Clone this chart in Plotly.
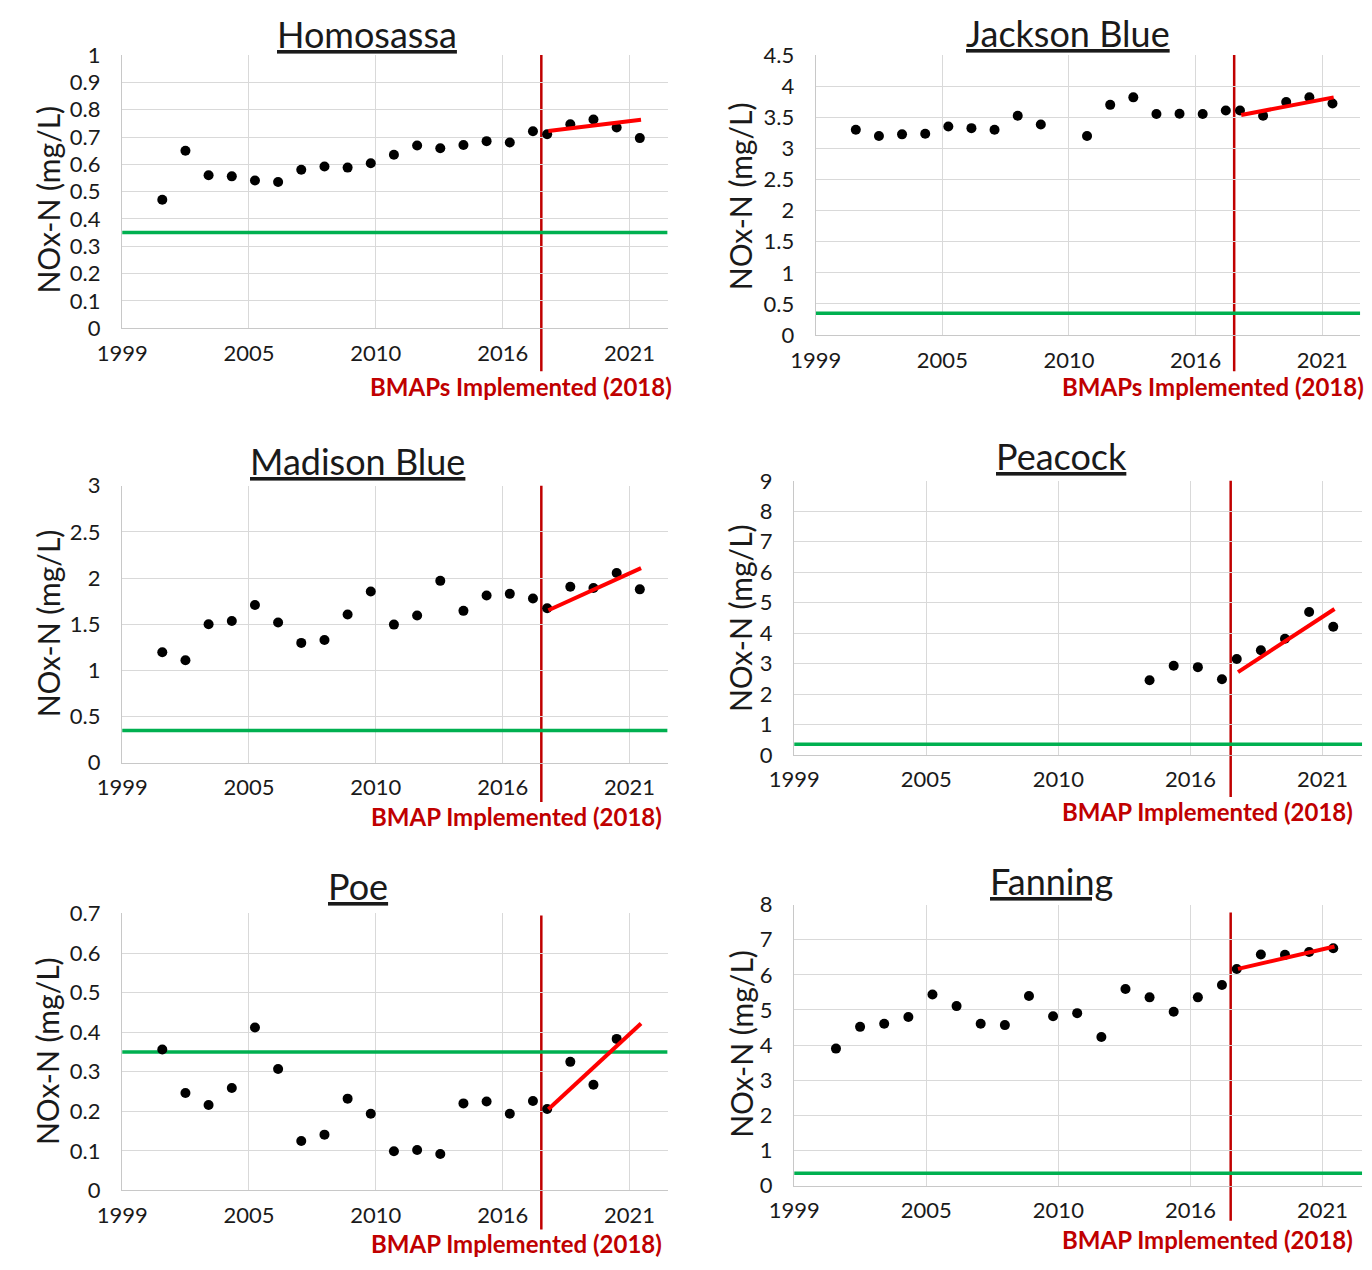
import plotly.graph_objects as go

W, H = 1372, 1270

# ---------------- data ----------------
years_pre = list(range(2001, 2018))          # annual values before BMAP
years_post = list(range(2018, 2023))         # annual values after BMAP
pre_dates = [f"{y}-05-22" for y in years_pre]
post_dates = [f"{y}-01-01" for y in years_post]
bmap_date = "2017-10-01"
trend_dates = ["2018-01-20", "2022-01-20"]
x_range = ["1999-08-28", "2023-03-15"]
target = 0.35

homosassa_pre = [0.47, 0.65, 0.56, 0.556, 0.541, 0.535, 0.58, 0.592, 0.588, 0.604,
                 0.635, 0.669, 0.659, 0.671, 0.685, 0.68, 0.721]
homosassa_post = [0.71, 0.747, 0.764, 0.735, 0.696]
homosassa_trend = [0.722, 0.763]

jackson_pre = [3.30, 3.20, 3.226, 3.237, 3.353, 3.326, 3.30, 3.526, 3.384, None,
               3.20, 3.70, 3.821, 3.553, 3.558, 3.553, 3.61]
jackson_post = [3.61, 3.526, 3.747, 3.821, 3.721]
jackson_trend = [3.537, 3.821]

madison_pre = [1.196, 1.111, 1.50, 1.535, 1.709, 1.518, 1.298, 1.33, 1.606, 1.854,
               1.496, 1.595, 1.97, 1.645, 1.811, 1.829, 1.779]
madison_post = [1.673, 1.907, 1.892, 2.055, 1.878]
madison_trend = [1.652, 2.108]

peacock_pre = [None] * 13 + [2.454, 2.925, 2.882, 2.486]
peacock_post = [3.15, 3.439, 3.814, 4.693, 4.211]
peacock_trend = [2.72, 4.79]

poe_pre = [0.356, 0.2465, 0.216, 0.259, 0.412, 0.307, 0.125, 0.141, 0.232, 0.194,
           0.099, 0.102, 0.092, 0.220, 0.225, 0.194, 0.226]
poe_post = [0.206, 0.325, 0.267, 0.383, None]
poe_trend = [0.205, 0.422]

fanning_pre = [3.90, 4.52, 4.61, 4.80, 5.44, 5.11, 4.61, 4.57, 5.40, 4.82,
               4.91, 4.23, 5.60, 5.36, 4.95, 5.36, 5.71]
fanning_post = [6.17, 6.58, 6.57, 6.65, 6.76]
fanning_trend = [6.17, 6.81]

names = ["Homosassa", "Jackson Blue", "Madison Blue", "Peacock", "Poe", "Fanning"]
bmap_labels = ["BMAPs Implemented (2018)", "BMAPs Implemented (2018)",
               "BMAP Implemented (2018)", "BMAP Implemented (2018)",
               "BMAP Implemented (2018)", "BMAP Implemented (2018)"]
y_max = [1, 4.5, 3, 9, 0.7, 8]
y_step = [0.1, 0.5, 0.5, 1, 0.1, 1]
y_title = "NOx-N (mg/L)"

series = [
    (homosassa_pre, homosassa_post, homosassa_trend),
    (jackson_pre, jackson_post, jackson_trend),
    (madison_pre, madison_post, madison_trend),
    (peacock_pre, peacock_post, peacock_trend),
    (poe_pre, poe_post, poe_trend),
    (fanning_pre, fanning_post, fanning_trend),
]

# ---------------- layout geometry (pixels) ----------------
boxes = [  # left, right, top, bottom of plot area
    (98, 654, 42, 321),
    (805, 1360, 42, 328),
    (98, 654, 482, 765),
    (783, 1362, 477, 757),
    (98, 654, 919, 1202),
    (783, 1362, 910, 1197),
]
title_pos = [(348, 20), (1062, 19), (338, 457), (1055, 452), (338, 891), (1045, 886)]
ylab_pos = [(22, 190), (728, 186), (22, 623), (728, 617), (22, 1060), (728, 1052)]
bmap_pos = [(505, 381), (1210, 381), (500, 820), (1204, 815), (500, 1256), (1204, 1252)]
red_drop = [0, 0, 0, 0, 2, 8]
red_below = [44, 37, 40, 43, 40, 36]

FONT = "Lato, 'Open Sans', sans-serif"
GREEN = "#00B050"
DARKRED = "#C00000"
RED = "#FF0000"
GRID = "#D9D9D9"
TXT = "#1a1a1a"

fig = go.Figure()
layout = dict(width=W, height=H, margin=dict(l=0, r=0, t=0, b=0),
              paper_bgcolor="white", plot_bgcolor="white", showlegend=False,
              font=dict(family=FONT, color=TXT))
shapes = []
annotations = []

for i in range(6):
    n = i + 1
    xa = "x" if n == 1 else f"x{n}"
    ya = "y" if n == 1 else f"y{n}"
    L, R, T, B = boxes[i]
    pre, post, trend = series[i]

    layout["xaxis" if n == 1 else f"xaxis{n}"] = dict(
        domain=[L / W, R / W], anchor=ya, type="date",
        range=x_range,
        tick0=x_range[0], dtick=2000 * 86400000, tickformat="%Y",
        showgrid=True, gridcolor=GRID, gridwidth=1.3,
        showline=True, linecolor="#C8C8C8", linewidth=1.3,
        zeroline=False, ticks="", ticklabelstandoff=5,
        tickfont=dict(family=FONT, size=22, color=TXT),
    )
    layout["yaxis" if n == 1 else f"yaxis{n}"] = dict(
        domain=[1 - B / H, 1 - T / H], anchor=xa,
        range=[0, y_max[i]], tick0=0, dtick=y_step[i],
        showgrid=True, gridcolor=GRID, gridwidth=1.3,
        showline=True, linecolor="#C8C8C8", linewidth=1.3,
        zeroline=False, ticks="", ticklabelstandoff=16,
        tickfont=dict(family=FONT, size=22, color=TXT),
    )

    # target line (0.35 mg/L)
    fig.add_trace(go.Scatter(
        x=x_range, y=[target, target], mode="lines",
        line=dict(color=GREEN, width=3.5), xaxis=xa, yaxis=ya))
    fig.add_trace(go.Scatter(
        x=pre_dates + post_dates, y=pre + post, mode="markers",
        marker=dict(color="black", size=10), xaxis=xa, yaxis=ya,
        cliponaxis=False))
    fig.add_trace(go.Scatter(
        x=trend_dates, y=trend, mode="lines",
        line=dict(color=RED, width=4), xaxis=xa, yaxis=ya))

    # BMAP implementation line
    shapes.append(dict(type="line", xref=xa, yref="paper",
                       x0=bmap_date, x1=bmap_date,
                       y0=1 - (B + red_below[i]) / H, y1=1 - (T + red_drop[i]) / H,
                       line=dict(color=DARKRED, width=2.5), layer="below"))

    tx, ty = title_pos[i]
    annotations.append(dict(text=f"<u>{names[i]}</u>", xref="paper", yref="paper",
                            x=tx / W, y=1 - ty / H, xanchor="center", yanchor="middle",
                            showarrow=False,
                            font=dict(family=FONT, size=36, color=TXT)))
    lx, ly = ylab_pos[i]
    annotations.append(dict(text=y_title, xref="paper", yref="paper",
                            x=lx / W, y=1 - ly / H, xanchor="center", yanchor="middle",
                            textangle=-90, showarrow=False,
                            font=dict(family=FONT, size=30, color=TXT)))
    bx, by = bmap_pos[i]
    annotations.append(dict(text=f"<b>{bmap_labels[i]}</b>", xref="paper", yref="paper",
                            x=bx / W, y=1 - by / H, xanchor="center", yanchor="middle",
                            showarrow=False,
                            font=dict(family=FONT, size=24, color=DARKRED)))

layout["shapes"] = shapes
layout["annotations"] = annotations
fig.update_layout(**layout)
fig.write_html("out.html", config={"displayModeBar": False},
               post_script="document.body.style.margin='0px';document.body.style.overflow='hidden';")
